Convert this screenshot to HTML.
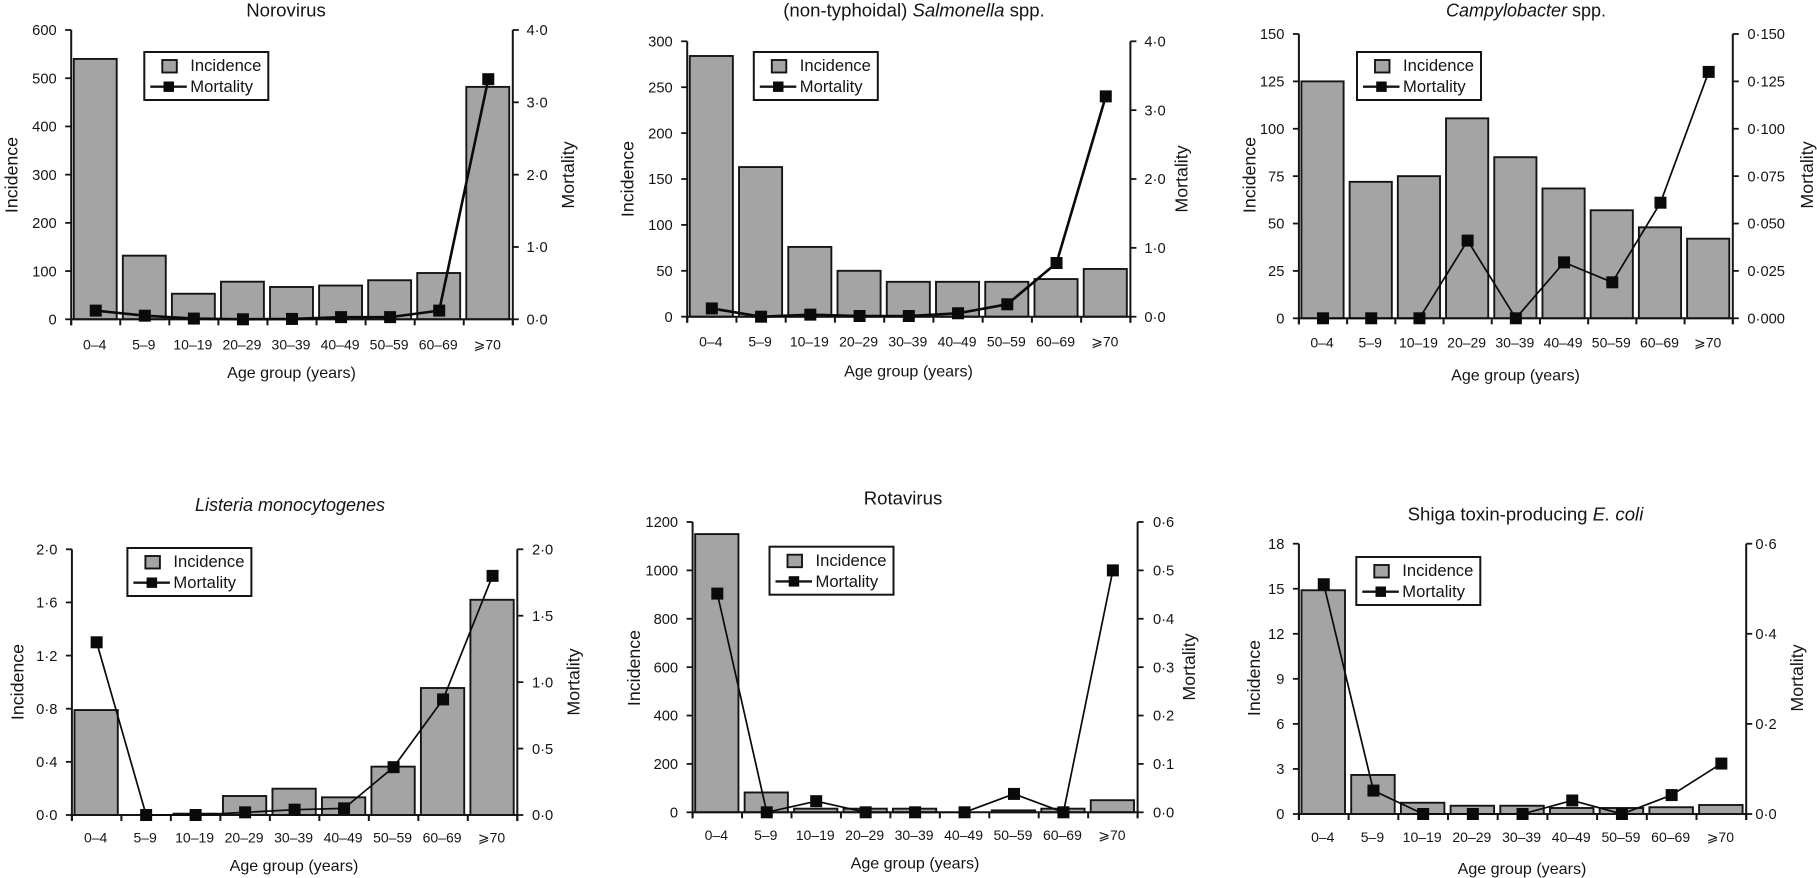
<!DOCTYPE html>
<html lang="en">
<head>
<meta charset="utf-8">
<title>Incidence and mortality by age group</title>
<style>
  html, body { margin: 0; padding: 0; background: #fff; }
  #figure { display: block; width: 1817px; height: 878px; }
  text { font-family: "Liberation Sans", "DejaVu Sans", sans-serif; fill: #151515; }
  .title { font-size: 18.6px; text-anchor: middle; }
  .title-italic { font-size: 18px; }
  .axis-title { font-size: 17.8px; text-anchor: middle; }
  .x-title { font-size: 16.1px; text-anchor: middle; }
  .legend-text { font-size: 16.6px; }
  .tick { font-size: 14.7px; }
  .tick-x { font-size: 14px; }
  .legend-box { fill: #fff; stroke: #151515; stroke-width: 2; }
  .swatch { fill: #a4a4a4; stroke: #151515; stroke-width: 1.9; }
  .legend-line { stroke: #151515; stroke-width: 2.4; }
  .legend-marker { fill: #0a0a0a; }
</style>
</head>
<body>
<svg id="figure" xmlns="http://www.w3.org/2000/svg" width="1817" height="878" viewBox="0 0 1817 878">
  <rect width="1817" height="878" fill="#fff"/>

  <g id="panel-norovirus">
    <text class="title" x="286" y="16.5">Norovirus</text>
    <text class="axis-title" transform="translate(17.6 175) rotate(-90)">Incidence</text>
    <text class="axis-title" transform="translate(574 175) rotate(-90)">Mortality</text>
    <text class="x-title" x="291.5" y="378">Age group (years)</text>
  </g>
  <g id="panel-salmonella">
    <text class="title" x="914" y="16.5">(non-typhoidal) <tspan font-style="italic">Salmonella</tspan> spp.</text>
    <text class="axis-title" transform="translate(633.7 179) rotate(-90)">Incidence</text>
    <text class="axis-title" transform="translate(1187.4 179) rotate(-90)">Mortality</text>
    <text class="x-title" x="908.5" y="376.5">Age group (years)</text>
  </g>
  <g id="panel-campylobacter">
    <text class="title title-italic" x="1526" y="16.5"><tspan font-style="italic">Campylobacter</tspan> spp.</text>
    <text class="axis-title" transform="translate(1255.3 175) rotate(-90)">Incidence</text>
    <text class="axis-title" transform="translate(1813 175) rotate(-90)">Mortality</text>
    <text class="x-title" x="1515.5" y="380.5">Age group (years)</text>
  </g>
  <g id="panel-listeria">
    <text class="title title-italic" x="290" y="511" font-style="italic">Listeria monocytogenes</text>
    <text class="axis-title" transform="translate(23.7 682) rotate(-90)">Incidence</text>
    <text class="axis-title" transform="translate(579.7 682) rotate(-90)">Mortality</text>
    <text class="x-title" x="294" y="871">Age group (years)</text>
  </g>
  <g id="panel-rotavirus">
    <text class="title" x="903" y="504.5">Rotavirus</text>
    <text class="axis-title" transform="translate(640.2 668) rotate(-90)">Incidence</text>
    <text class="axis-title" transform="translate(1195 667) rotate(-90)">Mortality</text>
    <text class="x-title" x="915" y="868.5">Age group (years)</text>
  </g>
  <g id="panel-stec">
    <text class="title" x="1525.5" y="520.5">Shiga toxin-producing <tspan font-style="italic">E. coli</tspan></text>
    <text class="axis-title" transform="translate(1259.9 678) rotate(-90)">Incidence</text>
    <text class="axis-title" transform="translate(1803 678) rotate(-90)">Mortality</text>
    <text class="x-title" x="1522" y="874">Age group (years)</text>
  </g>
  <g id="marks"></g>

  <g transform="translate(144.3 52)">
    <rect class="legend-box" width="124" height="48"/>
    <rect class="swatch" x="18" y="8" width="14.5" height="12.5"/>
    <text class="legend-text" x="46" y="19.2">Incidence</text>
    <line class="legend-line" x1="6" y1="34.7" x2="42.5" y2="34.7"/>
    <rect class="legend-marker" x="19.2" y="29.5" width="10.5" height="10.4"/>
    <text class="legend-text" x="46" y="40.2">Mortality</text>
  </g>
  <g transform="translate(753.8 52)">
    <rect class="legend-box" width="124" height="48"/>
    <rect class="swatch" x="18" y="8" width="14.5" height="12.5"/>
    <text class="legend-text" x="46" y="19.2">Incidence</text>
    <line class="legend-line" x1="6" y1="34.7" x2="42.5" y2="34.7"/>
    <rect class="legend-marker" x="19.2" y="29.5" width="10.5" height="10.4"/>
    <text class="legend-text" x="46" y="40.2">Mortality</text>
  </g>
  <g transform="translate(1357 52)">
    <rect class="legend-box" width="124" height="48"/>
    <rect class="swatch" x="18" y="8" width="14.5" height="12.5"/>
    <text class="legend-text" x="46" y="19.2">Incidence</text>
    <line class="legend-line" x1="6" y1="34.7" x2="42.5" y2="34.7"/>
    <rect class="legend-marker" x="19.2" y="29.5" width="10.5" height="10.4"/>
    <text class="legend-text" x="46" y="40.2">Mortality</text>
  </g>
  <g transform="translate(127.4 548)">
    <rect class="legend-box" width="124" height="48"/>
    <rect class="swatch" x="18" y="8" width="14.5" height="12.5"/>
    <text class="legend-text" x="46" y="19.2">Incidence</text>
    <line class="legend-line" x1="6" y1="34.7" x2="42.5" y2="34.7"/>
    <rect class="legend-marker" x="19.2" y="29.5" width="10.5" height="10.4"/>
    <text class="legend-text" x="46" y="40.2">Mortality</text>
  </g>
  <g transform="translate(769.5 546.7)">
    <rect class="legend-box" width="124" height="48"/>
    <rect class="swatch" x="18" y="8" width="14.5" height="12.5"/>
    <text class="legend-text" x="46" y="19.2">Incidence</text>
    <line class="legend-line" x1="6" y1="34.7" x2="42.5" y2="34.7"/>
    <rect class="legend-marker" x="19.2" y="29.5" width="10.5" height="10.4"/>
    <text class="legend-text" x="46" y="40.2">Mortality</text>
  </g>
  <g transform="translate(1356.3 557)">
    <rect class="legend-box" width="124" height="48"/>
    <rect class="swatch" x="18" y="8" width="14.5" height="12.5"/>
    <text class="legend-text" x="46" y="19.2">Incidence</text>
    <line class="legend-line" x1="6" y1="34.7" x2="42.5" y2="34.7"/>
    <rect class="legend-marker" x="19.2" y="29.5" width="10.5" height="10.4"/>
    <text class="legend-text" x="46" y="40.2">Mortality</text>
  </g>
</svg>

<script>
const ageGroups = ['0–4', '5–9', '10–19', '20–29', '30–39', '40–49', '50–59', '60–69', '⩾70'];

const norovirusIncidence = [540, 132, 53, 78, 67, 70, 81, 96, 482];
const norovirusMortality = [0.12, 0.05, 0.01, 0, 0.005, 0.03, 0.03, 0.12, 3.32];
const norovirusLeftTicks = ['0', '100', '200', '300', '400', '500', '600'];
const norovirusRightTicks = ['0·0', '1·0', '2·0', '3·0', '4·0'];

const salmonellaIncidence = [284, 163, 76, 50, 38, 38, 38, 41, 52];
const salmonellaMortality = [0.12, 0, 0.03, 0.01, 0.01, 0.05, 0.18, 0.78, 3.2];
const salmonellaLeftTicks = ['0', '50', '100', '150', '200', '250', '300'];
const salmonellaRightTicks = ['0·0', '1·0', '2·0', '3·0', '4·0'];

const campylobacterIncidence = [125, 72, 75, 105.5, 85, 68.5, 57, 48, 42];
const campylobacterMortality = [0, 0, 0, 0.041, 0, 0.0295, 0.019, 0.061, 0.13];
const campylobacterLeftTicks = ['0', '25', '50', '75', '100', '125', '150'];
const campylobacterRightTicks = ['0·000', '0·025', '0·050', '0·075', '0·100', '0·125', '0·150'];

const listeriaIncidence = [0.79, 0, 0.01, 0.143, 0.198, 0.133, 0.364, 0.956, 1.62];
const listeriaMortality = [1.3, 0, 0, 0.02, 0.04, 0.05, 0.36, 0.87, 1.8];
const listeriaLeftTicks = ['0·0', '0·4', '0·8', '1·2', '1·6', '2·0'];
const listeriaRightTicks = ['0·0', '0·5', '1·0', '1·5', '2·0'];

const rotavirusIncidence = [1150, 82, 15, 15, 15, 0, 8, 15, 50];
const rotavirusMortality = [0.452, 0, 0.023, 0, 0, 0, 0.038, 0, 0.5];
const rotavirusLeftTicks = ['0', '200', '400', '600', '800', '1000', '1200'];
const rotavirusRightTicks = ['0·0', '0·1', '0·2', '0·3', '0·4', '0·5', '0·6'];

const stecIncidence = [14.9, 2.6, 0.75, 0.55, 0.55, 0.4, 0.4, 0.45, 0.6];
const stecMortality = [0.51, 0.052, 0, 0, 0, 0.03, 0, 0.042, 0.112];
const stecLeftTicks = ['0', '3', '6', '9', '12', '15', '18'];
const stecRightTicks = ['0·0', '0·2', '0·4', '0·6'];

const panels = [
  { id: 'norovirus', left: 71.2, right: 512.8, top: 30, bottom: 319.3, gapR: 13.7, tickY: 30, lineW: 2.6,
    inc: norovirusIncidence, mort: norovirusMortality, lt: norovirusLeftTicks, rt: norovirusRightTicks },
  { id: 'salmonella', left: 687.2, right: 1130.4, top: 41.3, bottom: 316.7, gapR: 14, tickY: 30, lineW: 2.6,
    inc: salmonellaIncidence, mort: salmonellaMortality, lt: salmonellaLeftTicks, rt: salmonellaRightTicks },
  { id: 'campylobacter', left: 1298.9, right: 1732.8, top: 34, bottom: 318.3, gapR: 14.6, tickY: 29, lineW: 1.7,
    inc: campylobacterIncidence, mort: campylobacterMortality, lt: campylobacterLeftTicks, rt: campylobacterRightTicks },
  { id: 'listeria', left: 71.9, right: 517.3, top: 549.3, bottom: 815, gapR: 14.7, tickY: 27.5, lineW: 1.7,
    inc: listeriaIncidence, mort: listeriaMortality, lt: listeriaLeftTicks, rt: listeriaRightTicks },
  { id: 'rotavirus', left: 692.6, right: 1137.6, top: 522, bottom: 812.3, gapR: 15.4, tickY: 27.5, lineW: 1.7,
    inc: rotavirusIncidence, mort: rotavirusMortality, lt: rotavirusLeftTicks, rt: rotavirusRightTicks },
  { id: 'shiga-toxin-e-coli', left: 1298.9, right: 1746.2, top: 543.7, bottom: 814, gapR: 9.2, tickY: 28, lineW: 1.7,
    inc: stecIncidence, mort: stecMortality, lt: stecLeftTicks, rt: stecRightTicks }
];

const SVG_NS = 'http://www.w3.org/2000/svg';
const INK = '#151515';
const root = document.getElementById('marks');

function make(tag, attrs, parent, content) {
  const node = document.createElementNS(SVG_NS, tag);
  for (const key in attrs) node.setAttribute(key, attrs[key]);
  if (content !== undefined) node.textContent = content;
  parent.appendChild(node);
  return node;
}
function tickValue(label) {
  return parseFloat(label.replace('·', '.'));
}
function axisMax(labels) {
  return tickValue(labels[labels.length - 1]);
}

panels.forEach(function (p) {
  const g = make('g', {}, root);
  
  

  const catWidth = (p.right - p.left) / ageGroups.length;
  const xCenter = function (i) { return p.left + catWidth * (i + 0.5); };
  const yLeft = function (v) { return p.bottom - (v / axisMax(p.lt)) * (p.bottom - p.top); };
  const yRight = function (v) { return p.bottom - (v / axisMax(p.rt)) * (p.bottom - p.top); };

  p.inc.forEach(function (value, i) {
    const w = catWidth * 0.875;
    const bar = make('rect', {
      x: xCenter(i) - w / 2 - 0.5, y: yLeft(value), width: w, height: p.bottom - yLeft(value),
      fill: '#a4a4a4', stroke: INK, 'stroke-width': 1.9
    }, g);
    
    
  });

  const axes = make('g', { stroke: INK, 'stroke-width': 2, fill: 'none' }, g);
  
  
  make('line', { x1: p.left, y1: p.top, x2: p.left, y2: p.bottom + 6 }, axes);
  make('line', { x1: p.right, y1: p.top, x2: p.right, y2: p.bottom + 6 }, axes);
  make('line', { x1: p.left, y1: p.bottom, x2: p.right, y2: p.bottom }, axes);
  for (let i = 0; i <= ageGroups.length; i++) {
    const tx = p.left + catWidth * i;
    make('line', { x1: tx, y1: p.bottom, x2: tx, y2: p.bottom + 6 }, axes);
  }

  p.lt.forEach(function (label) {
    const y = yLeft(tickValue(label));
    make('line', { x1: p.left - 6, y1: y, x2: p.left, y2: y, stroke: INK, 'stroke-width': 1.8 }, g);
    const t = make('text', { class: 'tick', x: p.left - 14.5, y: y + 5.2, 'text-anchor': 'end' }, g, label);
    
    
  });

  p.rt.forEach(function (label) {
    const y = yRight(tickValue(label));
    make('line', { x1: p.right, y1: y, x2: p.right + 6, y2: y, stroke: INK, 'stroke-width': 1.8 }, g);
    const t = make('text', { class: 'tick', x: p.right + p.gapR, y: y + 5.2 }, g, label);
    
    
  });

  ageGroups.forEach(function (label, i) {
    const t = make('text', { class: 'tick-x', x: xCenter(i) - 1, y: p.bottom + p.tickY, 'text-anchor': 'middle' }, g, label);
    
    
  });

  const points = p.mort.map(function (v, i) { return xCenter(i) + ',' + yRight(v); }).join(' ');
  const line = make('polyline', { points: points, fill: 'none', stroke: '#0a0a0a', 'stroke-width': p.lineW, 'stroke-linejoin': 'round' }, g);
  
  

  p.mort.forEach(function (v, i) {
    const size = 12;
    const marker = make('rect', { x: xCenter(i) - size / 2, y: yRight(v) - size / 2, width: size, height: size, fill: '#0a0a0a' }, g);
    
    
  });
});
</script>
</body>
</html>
